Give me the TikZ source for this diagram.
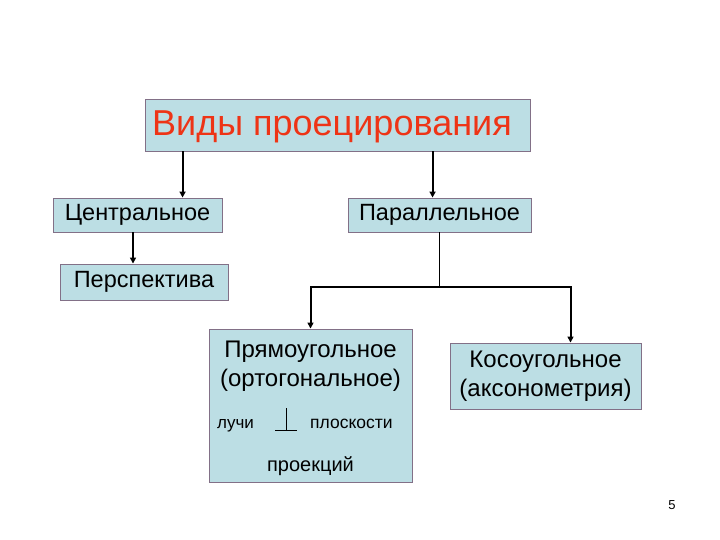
\documentclass[tikz,border=0pt]{standalone}
\usepackage{fontspec}
\setmainfont{Liberation Sans}
\usetikzlibrary{arrows.meta,calc}
\definecolor{boxfill}{RGB}{188,222,228}
\definecolor{boxline}{RGB}{130,112,135}
\definecolor{titlered}{RGB}{238,52,22}
\tikzset{
  box/.style={draw=boxline, line width=0.9pt, fill=boxfill, inner sep=0pt},
  arr/.style={line width=2pt, -{Triangle[width=6pt,length=6pt]}},
  conn/.style={line width=2pt},
  thin/.style={line width=1pt},
}
\begin{document}
\begin{tikzpicture}[x=1pt,y=-1pt]
\useasboundingbox (0,0) rectangle (720,540);
\node[box, minimum width=385pt, minimum height=52pt] (title) at (337.5,125) {};
\node[anchor=west, text=titlered, font=\fontsize{36}{40}\selectfont, inner sep=0pt] (titletext) at (152,127) {Виды проецирования};
\node[box, minimum width=169pt, minimum height=34pt, font=\fontsize{23.5}{26}\selectfont] (cen) at (137.5,215) {Центральное};
\node[box, minimum width=183pt, minimum height=34pt, font=\fontsize{23.5}{26}\selectfont] (par) at (439.5,215) {Параллельное};
\node[box, minimum width=168pt, minimum height=36pt, font=\fontsize{23.5}{26}\selectfont] (per) at (144,282) {Перспектива};
\node[box, minimum width=203pt, minimum height=153pt] (pr) at (310.5,405.5) {};
\node[font=\fontsize{24}{26}\selectfont, inner sep=0pt] (pr1) at (310.5,352) {Прямоугольное};
\node[font=\fontsize{24}{26}\selectfont, inner sep=0pt] (pr2) at (310.5,380) {(ортогональное)};
\node[anchor=base west, font=\fontsize{17}{20}\selectfont, inner sep=0pt] (luchi) at (217,428) {лучи};
\node[anchor=base west, font=\fontsize{17.5}{20}\selectfont, inner sep=0pt] (plosk) at (310,428) {плоскости};
\node[font=\fontsize{20}{24}\selectfont, inner sep=0pt] (proek) at (310.5,466) {проекций};
\node[box, minimum width=191pt, minimum height=66pt, align=center, font=\fontsize{24}{29}\selectfont] (kos) at (545.5,376) {Косоугольное\\(аксонометрия)};
\coordinate (perpc) at (286,430);
\draw[line width=1pt] (perpc) ++(-11,0) -- ++(22,0);
\draw[line width=1pt] (perpc) -- ++(0,-22);
\node[font=\fontsize{13}{15}\selectfont, inner sep=0pt] (pnum) at (672,505) {5};
% connectors
\draw[arr] ([xshift=38pt]title.south west) -- ([xshift=38pt]title.south west |- cen.north);
\draw[arr] ([xshift=288pt]title.south west) -- ([xshift=288pt]title.south west |- par.north);
\draw[arr] ([xshift=-4.5pt]cen.south) -- ([xshift=-4.5pt]cen.south |- per.north);
\coordinate (split) at ($(par.south)+(0,55)$);
\coordinate (lft) at (split -| pr.north);
\coordinate (rgt) at ($(split)+(131,0)$);
\draw[thin] (par.south) -- (split);
\draw[conn, line cap=rect] (lft) -- (rgt);
\draw[arr] (lft) -- (pr.north);
\draw[arr] (rgt) -- (rgt |- kos.north);
\end{tikzpicture}
\end{document}
